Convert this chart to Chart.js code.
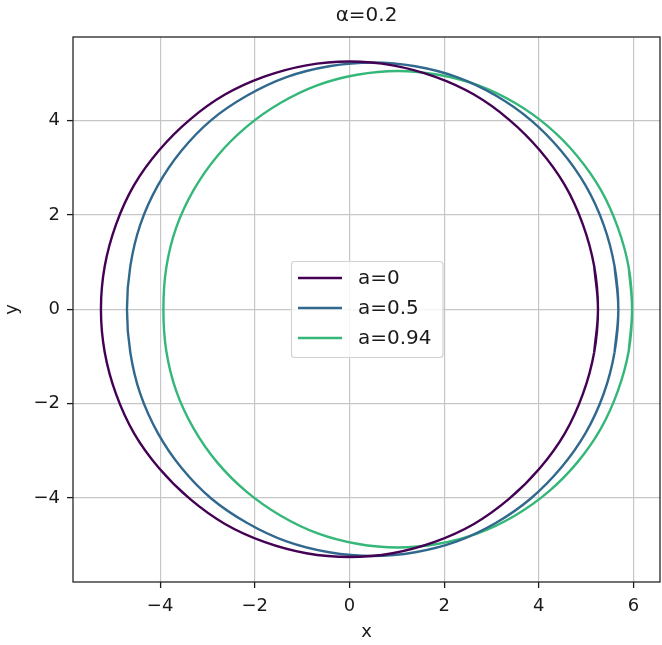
<!DOCTYPE html>
<html>
<head>
<meta charset="utf-8">
<script src="https://cdn.jsdelivr.net/npm/chart.js@4/dist/chart.umd.min.js"></script>
<style>
  html, body { margin: 0; padding: 0; background: #ffffff; }
  #wrap { width: 662px; height: 645px; }
</style>
</head>
<body>
<div id="wrap"><canvas id="c" width="662" height="645"></canvas></div>
<script>
// Shadow outlines for three spin values, traced counter-clockwise from the right edge
// in 10-degree steps; each list wraps one step past the start so the outline closes smoothly.
const curveLabels = ['a=0', 'a=0.5', 'a=0.94'];
const curveColors = ['#440154', '#31688e', '#35b779'];

const xA0 = [5.17, 5.25, 5.17, 4.93, 4.55, 4.02, 3.37, 2.63, 1.80, 0.91, 0.00, -0.91, -1.80, -2.63, -3.37, -4.02, -4.55, -4.93, -5.17, -5.25,
             -5.17, -4.93, -4.55, -4.02, -3.37, -2.63, -1.80, -0.91, 0.00, 0.91, 1.80, 2.63, 3.37, 4.02, 4.55, 4.93, 5.17, 5.25, 5.17];
const yA0 = [-0.91, 0.00, 0.91, 1.80, 2.63, 3.37, 4.02, 4.55, 4.93, 5.17, 5.25, 5.17, 4.93, 4.55, 4.02, 3.37, 2.63, 1.80, 0.91, 0.00,
             -0.91, -1.80, -2.63, -3.37, -4.02, -4.55, -4.93, -5.17, -5.25, -5.17, -4.93, -4.55, -4.02, -3.37, -2.63, -1.80, -0.91, 0.00, 0.91];

const xA05 = [5.60, 5.68, 5.60, 5.37, 4.99, 4.47, 3.83, 3.09, 2.27, 1.39, 0.49, -0.43, -1.33, -2.16, -2.92, -3.55, -4.05, -4.42, -4.63, -4.70,
              -4.63, -4.42, -4.05, -3.55, -2.92, -2.16, -1.33, -0.43, 0.49, 1.39, 2.27, 3.09, 3.83, 4.47, 4.99, 5.37, 5.60, 5.68, 5.60];
const yA05 = [-0.91, 0.00, 0.91, 1.79, 2.62, 3.36, 4.01, 4.53, 4.92, 5.15, 5.23, 5.15, 4.92, 4.53, 4.01, 3.36, 2.62, 1.79, 0.91, 0.00,
              -0.91, -1.79, -2.62, -3.36, -4.01, -4.53, -4.92, -5.15, -5.23, -5.15, -4.92, -4.53, -4.01, -3.36, -2.62, -1.79, -0.91, 0.00, 0.91];

const xA094 = [5.90, 5.97, 5.90, 5.67, 5.31, 4.81, 4.20, 3.50, 2.71, 1.88, 1.02, 0.16, -0.67, -1.46, -2.17, -2.79, -3.29, -3.66, -3.87, -3.93,
               -3.87, -3.66, -3.29, -2.79, -2.17, -1.46, -0.67, 0.16, 1.02, 1.88, 2.71, 3.50, 4.20, 4.81, 5.31, 5.67, 5.90, 5.97, 5.90];
const yA094 = [-0.88, 0.00, 0.88, 1.73, 2.53, 3.25, 3.87, 4.37, 4.75, 4.97, 5.05, 4.97, 4.75, 4.37, 3.87, 3.25, 2.53, 1.73, 0.88, 0.00,
               -0.88, -1.73, -2.53, -3.25, -3.87, -4.37, -4.75, -4.97, -5.05, -4.97, -4.75, -4.37, -3.87, -3.25, -2.53, -1.73, -0.88, 0.00, 0.88];

const xTicks = [-4, -2, 0, 2, 4, 6];
const xTickLabels = ['\u22124', '\u22122', '0', '2', '4', '6'];
const yTicks = [-4, -2, 0, 2, 4];
const yTickLabels = ['\u22124', '\u22122', '0', '2', '4'];

const titleText = '\u03b1=0.2';
const FONT = "'DejaVu Sans', sans-serif";
const INK = '#1a1a1a';

const curves = [[xA0, yA0], [xA05, yA05], [xA094, yA094]];
const datasets = curves.map(([xs, ys], i) => ({
  label: curveLabels[i],
  data: xs.map((x, k) => ({ x: x, y: ys[k] })),
  showLine: true,
  borderColor: curveColors[i],
  backgroundColor: curveColors[i],
  borderWidth: 2.4,
  pointRadius: 0,
  pointHoverRadius: 0,
  tension: 0.4,
  fill: false
}));

// Title centred over the plotting area
const titlePlugin = {
  id: 'axesTitle',
  afterDraw(chart) {
    const a = chart.chartArea, c = chart.ctx;
    c.save();
    c.font = '20px ' + FONT;
    c.fillStyle = INK;
    c.textAlign = 'center';
    c.textBaseline = 'middle';
    c.fillText(titleText, (a.left + a.right) / 2, 16);
    c.restore();
  }
};

// Frame around the plotting area
const framePlugin = {
  id: 'frame',
  afterDatasetsDraw(chart) {
    const a = chart.chartArea, c = chart.ctx;
    c.save();
    c.strokeStyle = '#262626';
    c.lineWidth = 1.3;
    c.strokeRect(a.left, a.top, a.right - a.left, a.bottom - a.top);
    c.restore();
  }
};

// Legend box placed inside the axes
const innerLegend = {
  id: 'innerLegend',
  afterDraw(chart) {
    const c = chart.ctx;
    const bx = 291.5, by = 261.5, bw = 151.5, bh = 96, r = 3;
    c.save();
    c.beginPath();
    c.moveTo(bx + r, by);
    c.arcTo(bx + bw, by, bx + bw, by + bh, r);
    c.arcTo(bx + bw, by + bh, bx, by + bh, r);
    c.arcTo(bx, by + bh, bx, by, r);
    c.arcTo(bx, by, bx + bw, by, r);
    c.closePath();
    c.fillStyle = 'rgba(255,255,255,0.8)';
    c.fill();
    c.strokeStyle = '#d3d3d3';
    c.lineWidth = 1.2;
    c.stroke();
    c.font = '20px ' + FONT;
    c.textBaseline = 'middle';
    c.textAlign = 'left';
    chart.data.datasets.forEach((ds, i) => {
      const ly = 278 + i * 30;
      c.strokeStyle = ds.borderColor;
      c.lineWidth = 2.4;
      c.beginPath();
      c.moveTo(298, ly);
      c.lineTo(342, ly);
      c.stroke();
      c.fillStyle = INK;
      c.fillText(ds.label, 358, ly + 1);
    });
    c.restore();
  }
};

new Chart(document.getElementById('c'), {
  type: 'scatter',
  data: { datasets },
  plugins: [framePlugin, innerLegend, titlePlugin],
  options: {
    responsive: false,
    animation: false,
    events: [],
    layout: { padding: { left: 0, right: 2, top: 37, bottom: 0 } },
    plugins: {
      legend: { display: false },
      tooltip: { enabled: false },
      title: { display: false }
    },
    scales: {
      x: {
        type: 'linear',
        min: -5.84,
        max: 6.56,
        afterBuildTicks(scale) { scale.ticks = xTicks.map(v => ({ value: v })); },
        afterFit(scale) { scale.height = 63; },
        ticks: {
          callback: (v, i) => xTickLabels[i],
          color: INK,
          font: { family: FONT, size: 18 },
          padding: 8,
          maxRotation: 0
        },
        grid: { color: '#c6c6c6', lineWidth: 1.2, tickColor: INK, tickWidth: 1.3, tickLength: 6, drawTicks: true },
        border: { display: false },
        title: {
          display: true,
          text: 'x',
          color: INK,
          font: { family: FONT, size: 18 },
          padding: { top: 0, bottom: 2 }
        }
      },
      y: {
        type: 'linear',
        min: -5.78,
        max: 5.77,
        afterBuildTicks(scale) { scale.ticks = yTicks.map(v => ({ value: v })); },
        afterFit(scale) { scale.width = 73; },
        ticks: {
          callback: (v, i) => yTickLabels[i],
          color: INK,
          font: { family: FONT, size: 18 },
          padding: 7
        },
        grid: { color: '#c6c6c6', lineWidth: 1.2, tickColor: INK, tickWidth: 1.3, tickLength: 6, drawTicks: true },
        border: { display: false },
        title: {
          display: true,
          text: 'y',
          color: INK,
          font: { family: FONT, size: 18 },
          padding: { top: 1.2, bottom: 0 }
        }
      }
    }
  }
});
</script>
</body>
</html>
